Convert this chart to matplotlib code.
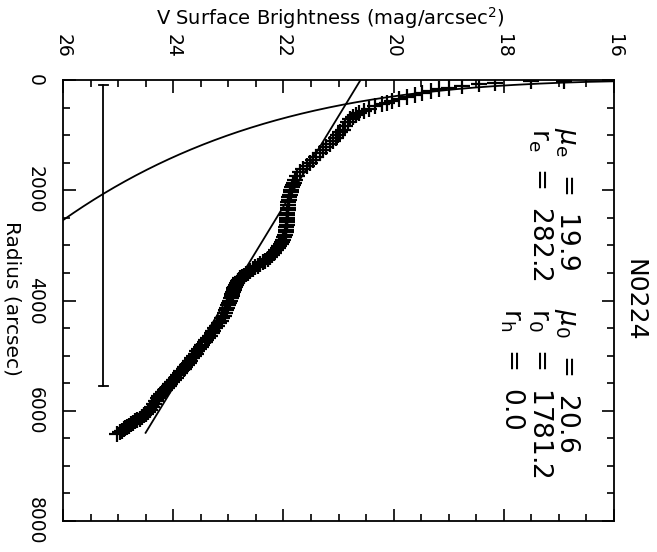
import numpy as np
import matplotlib.pyplot as plt
from matplotlib.ticker import MultipleLocator

plt.rcParams["font.family"] = ["DejaVu Sans"]
plt.rcParams["mathtext.fontset"] = "dejavusans"

# observed profile: radius (arcsec) and V surface brightness (mag/arcsec^2)
radius = [10, 25, 50, 80, 110, 140, 165, 200, 235, 270, 310, 345, 380, 410,
          435, 480, 520, 560, 600, 640, 670, 715, 760, 830, 905, 950, 1000,
          1050, 1105, 1160, 1215, 1270, 1325, 1390, 1450, 1505, 1560, 1615,
          1670, 1740, 1815, 1860, 1900, 1950, 1995, 2040, 2080, 2130, 2175,
          2220, 2270, 2315, 2360, 2405, 2450, 2495, 2540, 2585, 2630, 2675,
          2720, 2765, 2810, 2855, 2900, 2940, 2980, 3015, 3050, 3090, 3130,
          3170, 3210, 3245, 3280, 3310, 3340, 3370, 3400, 3430, 3465, 3495,
          3520, 3550, 3575, 3600, 3630, 3655, 3680, 3715, 3750, 3780, 3810,
          3845, 3880, 3915, 3955, 4000, 4045, 4090, 4135, 4180, 4230, 4275,
          4320, 4365, 4410, 4455, 4500, 4545, 4590, 4635, 4680, 4720, 4760,
          4800, 4845, 4885, 4925, 4965, 5005, 5045, 5090, 5130, 5170, 5205,
          5240, 5280, 5315, 5360, 5400, 5440, 5480, 5515, 5550, 5585, 5620,
          5660, 5700, 5735, 5770, 5825, 5880, 5930, 5985, 6020, 6050, 6085,
          6115, 6145, 6170, 6195, 6220, 6245, 6270, 6290, 6315, 6340, 6360,
          6385, 6420]
mu_obs = [16.9, 17.5, 18.16, 18.45, 18.76, 19.0, 19.18, 19.33, 19.48, 19.62,
          19.76, 19.9, 20.03, 20.12, 20.21, 20.34, 20.45, 20.54, 20.62, 20.69,
          20.74, 20.79, 20.83, 20.88, 20.92, 20.97, 21.01, 21.05, 21.10, 21.16,
          21.23, 21.29, 21.34, 21.40, 21.46, 21.52, 21.57, 21.64, 21.70, 21.75,
          21.79, 21.81, 21.83, 21.85, 21.86, 21.87, 21.88, 21.89, 21.90, 21.91,
          21.91, 21.92, 21.92, 21.93, 21.93, 21.93, 21.93, 21.94, 21.94, 21.95,
          21.95, 21.96, 21.97, 21.99, 22.01, 22.03, 22.05, 22.08, 22.10, 22.13,
          22.17, 22.20, 22.24, 22.28, 22.33, 22.37, 22.42, 22.47, 22.52, 22.56,
          22.61, 22.65, 22.68, 22.72, 22.75, 22.78, 22.80, 22.82, 22.84, 22.86,
          22.87, 22.89, 22.90, 22.92, 22.93, 22.94, 22.95, 22.97, 22.98, 23.00,
          23.02, 23.04, 23.06, 23.08, 23.11, 23.14, 23.17, 23.20, 23.24, 23.27,
          23.30, 23.34, 23.37, 23.40, 23.43, 23.47, 23.50, 23.53, 23.56, 23.59,
          23.62, 23.66, 23.69, 23.72, 23.75, 23.78, 23.81, 23.85, 23.88, 23.91,
          23.95, 23.98, 24.02, 24.05, 24.08, 24.12, 24.15, 24.19, 24.22, 24.25,
          24.28, 24.32, 24.35, 24.38, 24.42, 24.46, 24.50, 24.53, 24.57, 24.61,
          24.65, 24.69, 24.73, 24.76, 24.80, 24.83, 24.87, 24.90, 24.93, 24.96,
          25.02]

# fit parameters
mu_e, r_e = 19.9, 282.2
mu_0, r_0 = 20.6, 1781.2
r_h = 0.0

# typical error bar
err_mu = 25.27
err_r = [90, 5550]

r_fit = np.linspace(1, 6400, 800)
mu_bulge = mu_e + 8.3268 * ((r_fit / r_e) ** 0.25 - 1.0)
r_disk = np.linspace(0, 6400, 50)
mu_disk = mu_0 + 1.0857 * r_disk / r_0

fig = plt.figure(figsize=(6.57, 5.52), dpi=100)
ax = fig.add_axes([63 / 657, 1 - 521 / 552, 551 / 657, 441 / 552])

ax.plot(mu_obs, radius, "+", color="black", ms=11, mew=1.6)
ax.plot(mu_bulge, r_fit, color="black", lw=1.3)
ax.plot(mu_disk, r_disk, color="black", lw=1.3)
ax.plot([err_mu, err_mu], err_r, color="black", lw=1.3)
for r in err_r:
    ax.plot([err_mu - 0.08, err_mu + 0.08], [r, r], color="black", lw=1.3)

ax.set_xlim(26, 16)
ax.set_ylim(8000, 0)
ax.xaxis.set_major_locator(MultipleLocator(2))
ax.xaxis.set_minor_locator(MultipleLocator(0.5))
ax.yaxis.set_major_locator(MultipleLocator(2000))
ax.yaxis.set_minor_locator(MultipleLocator(500))
ax.tick_params(which="both", direction="in", top=True, right=True,
               bottom=True, left=True, labeltop=True, labelbottom=False,
               width=1.2, labelsize=13.5)
ax.tick_params(which="major", length=9)
ax.tick_params(which="minor", length=5)
ax.tick_params(axis="x", which="major", pad=16)
ax.tick_params(axis="y", which="major", pad=13)
for lab in ax.get_xticklabels():
    lab.set_rotation(270)
    lab.set_va("bottom")
    lab.set_ha("center")
for lab in ax.get_yticklabels():
    lab.set_rotation(270)
    lab.set_va("center")
    lab.set_ha("right")
for sp in ax.spines.values():
    sp.set_linewidth(1.3)

fig.text(330 / 657, 1 - 18 / 552, r"V Surface Brightness (mag/arcsec$^2$)",
         ha="center", va="center", fontsize=14)
fig.text(12 / 657, 1 - 298 / 552, "Radius (arcsec)", rotation=270,
         ha="center", va="center", fontsize=14.5)
fig.text(635 / 657, 1 - 300 / 552, "N0224", rotation=270,
         ha="center", va="center", fontsize=18)

kw = dict(rotation=270, ha="left", va="baseline", fontsize=19,
          rotation_mode="anchor")
fig.text(560 / 657, 1 - 127 / 552, r"$\mu_{\rm e}$  =  %.1f" % mu_e, **kw)
fig.text(560 / 657, 1 - 308 / 552, r"$\mu_{\rm 0}$  =  %.1f" % mu_0, **kw)
fig.text(532 / 657, 1 - 128 / 552, r"r$_{\rm e}$  =  %.1f" % r_e, **kw)
fig.text(532 / 657, 1 - 308 / 552, r"r$_{\rm 0}$  =  %.1f" % r_0, **kw)
fig.text(504 / 657, 1 - 308 / 552, r"r$_{\rm h}$  =  %.1f" % r_h, **kw)

fig.savefig("out.png", dpi=100)
